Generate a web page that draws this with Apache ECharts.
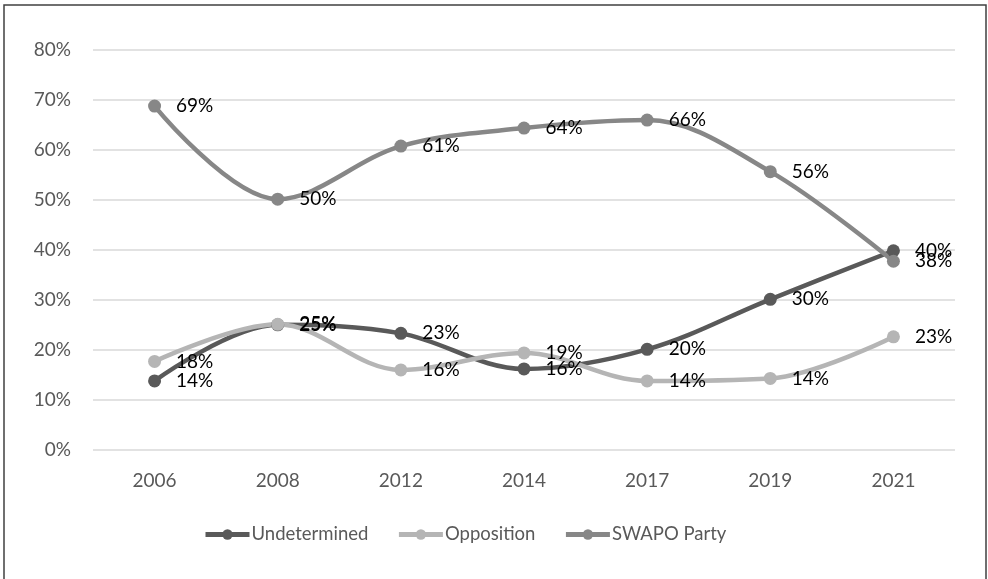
<!DOCTYPE html>
<html><head><meta charset="utf-8">
<script src="https://cdn.jsdelivr.net/npm/echarts@6/dist/echarts.min.js"></script>
<style>html,body{margin:0;padding:0;background:#fff}#c{width:988px;height:579px}</style>
</head><body><div id="c"></div>
<script>
const categories = ['2006','2008','2012','2014','2017','2019','2021'];
const undetermined = [13.8, 25.0, 23.3, 16.2, 20.1, 30.1, 39.8];
const opposition = [17.7, 25.1, 16.0, 19.4, 13.8, 14.3, 22.6];
const swapo = [68.7, 50.1, 60.7, 64.3, 65.9, 55.6, 37.7];
const labelUndet = ['14%','25%','23%','16%','20%','30%','40%'];
const labelOpp = ['18%','25%','16%','19%','14%','14%','23%'];
const labelSwapo = ['69%','50%','61%','64%','66%','56%','38%'];

const font = "Lato, 'Open Sans', sans-serif";
function mk(name, data, labels, color){
  return {
    name, type:'line', data, smooth:0.35,
    symbol:'circle', symbolSize:13,
    lineStyle:{color, width:4.5}, itemStyle:{color},
    label:{show:true, position:'right', distance:15, color:'#000', fontSize:19, fontFamily:font,
      formatter:p=>labels[p.dataIndex]},
    z: 2
  };
}
const chart = echarts.init(document.getElementById('c'), null, {renderer:'canvas'});
chart.setOption({
  animation:false,
  grid:{left:93, right:33, top:49.5, bottom:129},
  graphic:[{type:'rect', shape:{x:4, y:5, width:982, height:590}, style:{fill:'none', stroke:'#404040', lineWidth:1.5}, silent:true}],
  legend:{top:520, left:198, itemWidth:44, itemHeight:13, itemGap:28,
    lineStyle:{width:5},
    textStyle:{color:'#595959', fontSize:18.5, fontFamily:font, padding:[0,0,0,-3]},
    data:['Undetermined','Opposition','SWAPO Party']},
  xAxis:{type:'category', data:categories, boundaryGap:true,
    axisLine:{show:false}, axisTick:{show:false},
    axisLabel:{color:'#595959', fontSize:19, fontFamily:font, margin:21}},
  yAxis:{type:'value', min:0, max:80, interval:10,
    axisLine:{show:false}, axisTick:{show:false},
    splitLine:{lineStyle:{color:'#d9d9d9', width:1.5}},
    axisLabel:{color:'#595959', fontSize:19, fontFamily:font, margin:22, formatter:v=>v+'%'}},
  series:[
    mk('Undetermined', undetermined, labelUndet, '#595959'),
    mk('Opposition', opposition, labelOpp, '#b5b5b5'),
    mk('SWAPO Party', swapo, labelSwapo, '#878787')
  ]
});
</script></body></html>
